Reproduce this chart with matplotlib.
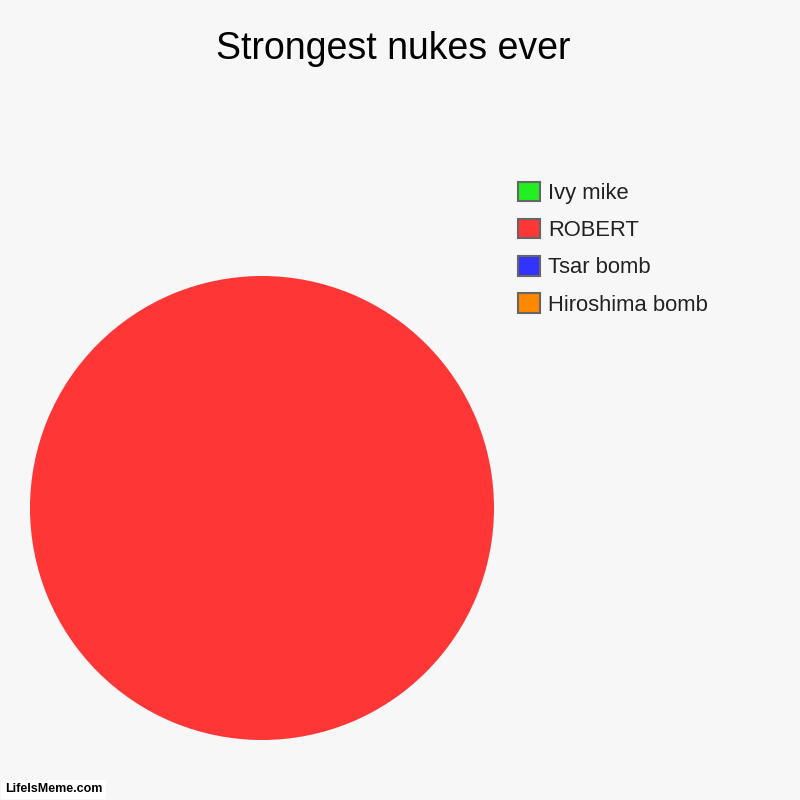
import matplotlib
matplotlib.use("Agg")
import matplotlib.pyplot as plt
from matplotlib.patches import Patch

plt.rcParams['font.family'] = ['Liberation Sans', 'DejaVu Sans']

title = "Strongest nukes ever"
categories = ["Ivy mike", "ROBERT", "Tsar bomb", "Hiroshima bomb"]
values = [0, 100, 0, 0]
colors = ["#22ee22", "#ff3636", "#3333ff", "#ff8800"]

bg = "#f7f7f7"
fig = plt.figure(figsize=(8, 8), dpi=100, facecolor=bg)

ax = fig.add_axes([30/800, 60/800, 464/800, 464/800])
ax.set_facecolor(bg)
ax.pie(values, colors=colors, startangle=90, counterclock=False,
       radius=1.0, wedgeprops=dict(linewidth=0))
ax.set_xlim(-1, 1)
ax.set_ylim(-1, 1)
ax.set_aspect('equal')
ax.axis('off')

fig.text(393/800, 1 - 59/800, title, ha='center', va='baseline', fontsize=27, color='black')

handles = [Patch(facecolor=c, edgecolor='#666666', linewidth=1.5) for c in colors]
fs = 15.8
leg = fig.legend(handles, categories, loc='upper left',
                 bbox_to_anchor=(518/800, 1 - 182/800),
                 frameon=False, fontsize=fs,
                 handlelength=0.98, handleheight=0.98,
                 handletextpad=0.4, labelspacing=0.68,
                 borderpad=0, borderaxespad=0)
for t in leg.get_texts():
    t.set_color('#222222')

fig.text(5/800, 11/800, "LifeIsMeme.com", ha='left', va='center',
         fontsize=9, fontweight='bold', color='black',
         bbox=dict(facecolor='white', edgecolor='none', pad=2.5))

fig.savefig("out.png", dpi=100, facecolor=bg)
